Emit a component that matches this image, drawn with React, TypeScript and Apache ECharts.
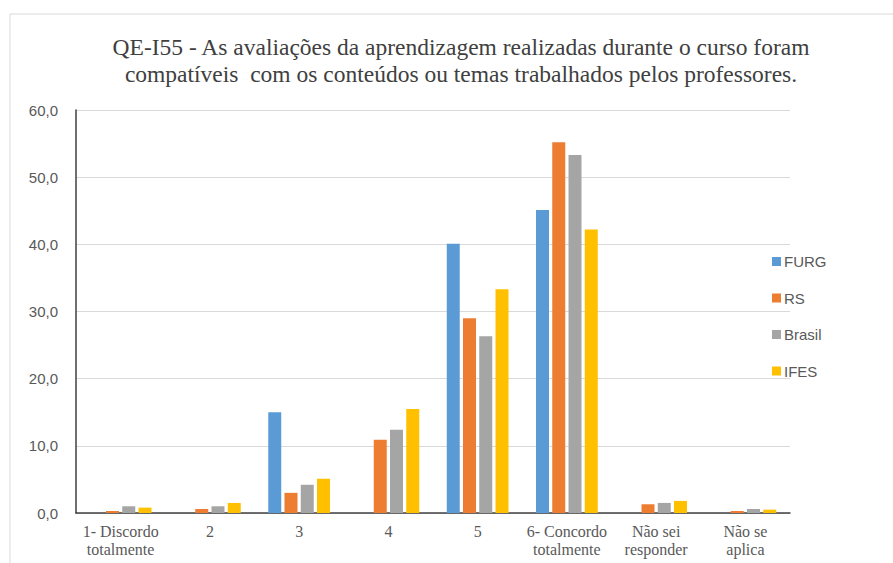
import React, { useEffect, useRef } from "react";
import * as echarts from "echarts";

const titleText =
  "QE-I55 - As avaliações da aprendizagem realizadas durante o curso foram\ncompatíveis  com os conteúdos ou temas trabalhados pelos professores.";
const categories = [
  "1- Discordo\ntotalmente",
  "2",
  "3",
  "4",
  "5",
  "6- Concordo\ntotalmente",
  "Não sei\nresponder",
  "Não se\naplica",
];
const seriesNames = ["FURG", "RS", "Brasil", "IFES"];
const furg = [0, 0, 15.0, 0, 40.1, 45.1, 0, 0];
const rs = [0.3, 0.6, 3.0, 10.9, 29.0, 55.2, 1.3, 0.3];
const brasil = [1.0, 1.0, 4.2, 12.4, 26.3, 53.3, 1.5, 0.6];
const ifes = [0.8, 1.5, 5.1, 15.5, 33.3, 42.2, 1.8, 0.5];
const colors = ["#5b9bd5", "#ed7d31", "#a5a5a5", "#ffc000"];

export default function App() {
  const ref = useRef<HTMLDivElement>(null);
  useEffect(() => {
    if (!ref.current) return;
    const chart = echarts.init(ref.current, undefined, { renderer: "svg" });
    const values = [furg, rs, brasil, ifes];
    chart.setOption({
      animation: false,
      backgroundColor: "#ffffff",
      graphic: [
        {
          type: "rect",
          shape: { x: 10, y: 14, width: 900, height: 600 },
          style: { fill: "none", stroke: "#d9d9d9", lineWidth: 1 },
          silent: true,
        },
      ],
      title: {
        text: titleText,
        left: 456,
        textAlign: "center",
        top: 28,
        textStyle: {
          fontFamily: "Liberation Serif",
          fontSize: 23.5,
          fontWeight: "normal",
          color: "#404040",
          lineHeight: 27,
        },
      },
      legend: {
        orient: "vertical",
        left: 767,
        top: 249,
        itemWidth: 9,
        itemHeight: 9,
        itemGap: 21.5,
        icon: "rect",
        data: seriesNames,
        textStyle: {
          fontFamily: "Liberation Sans",
          fontSize: 15,
          color: "#595959",
          padding: [0, 0, 0, -2],
        },
      },
      grid: { left: 76, right: 103, top: 110, bottom: 50 },
      xAxis: {
        type: "category",
        data: categories,
        axisLine: { show: true, lineStyle: { color: "#404040", width: 1.5 } },
        axisTick: { show: false },
        axisLabel: {
          interval: 0,
          margin: 9,
          fontFamily: "Liberation Serif",
          fontSize: 16,
          color: "#595959",
          lineHeight: 18,
        },
      },
      yAxis: {
        type: "value",
        min: 0,
        max: 60,
        interval: 10,
        axisLine: { show: true, lineStyle: { color: "#404040", width: 1.5 } },
        axisTick: { show: false },
        splitLine: { lineStyle: { color: "#d9d9d9", width: 1 } },
        axisLabel: {
          margin: 18,
          fontFamily: "Liberation Sans",
          fontSize: 15,
          color: "#595959",
          formatter: (v: number) => v.toFixed(1).replace(".", ","),
        },
      },
      series: seriesNames.map((name, i) => ({
        name,
        type: "bar",
        data: values[i],
        barWidth: 13,
        barGap: "25%",
        itemStyle: { color: colors[i] },
      })),
    });
    return () => chart.dispose();
  }, []);
  return (
    <div
      ref={ref}
      style={{ position: "fixed", left: 0, top: 0, width: 893, height: 563 }}
    />
  );
}
